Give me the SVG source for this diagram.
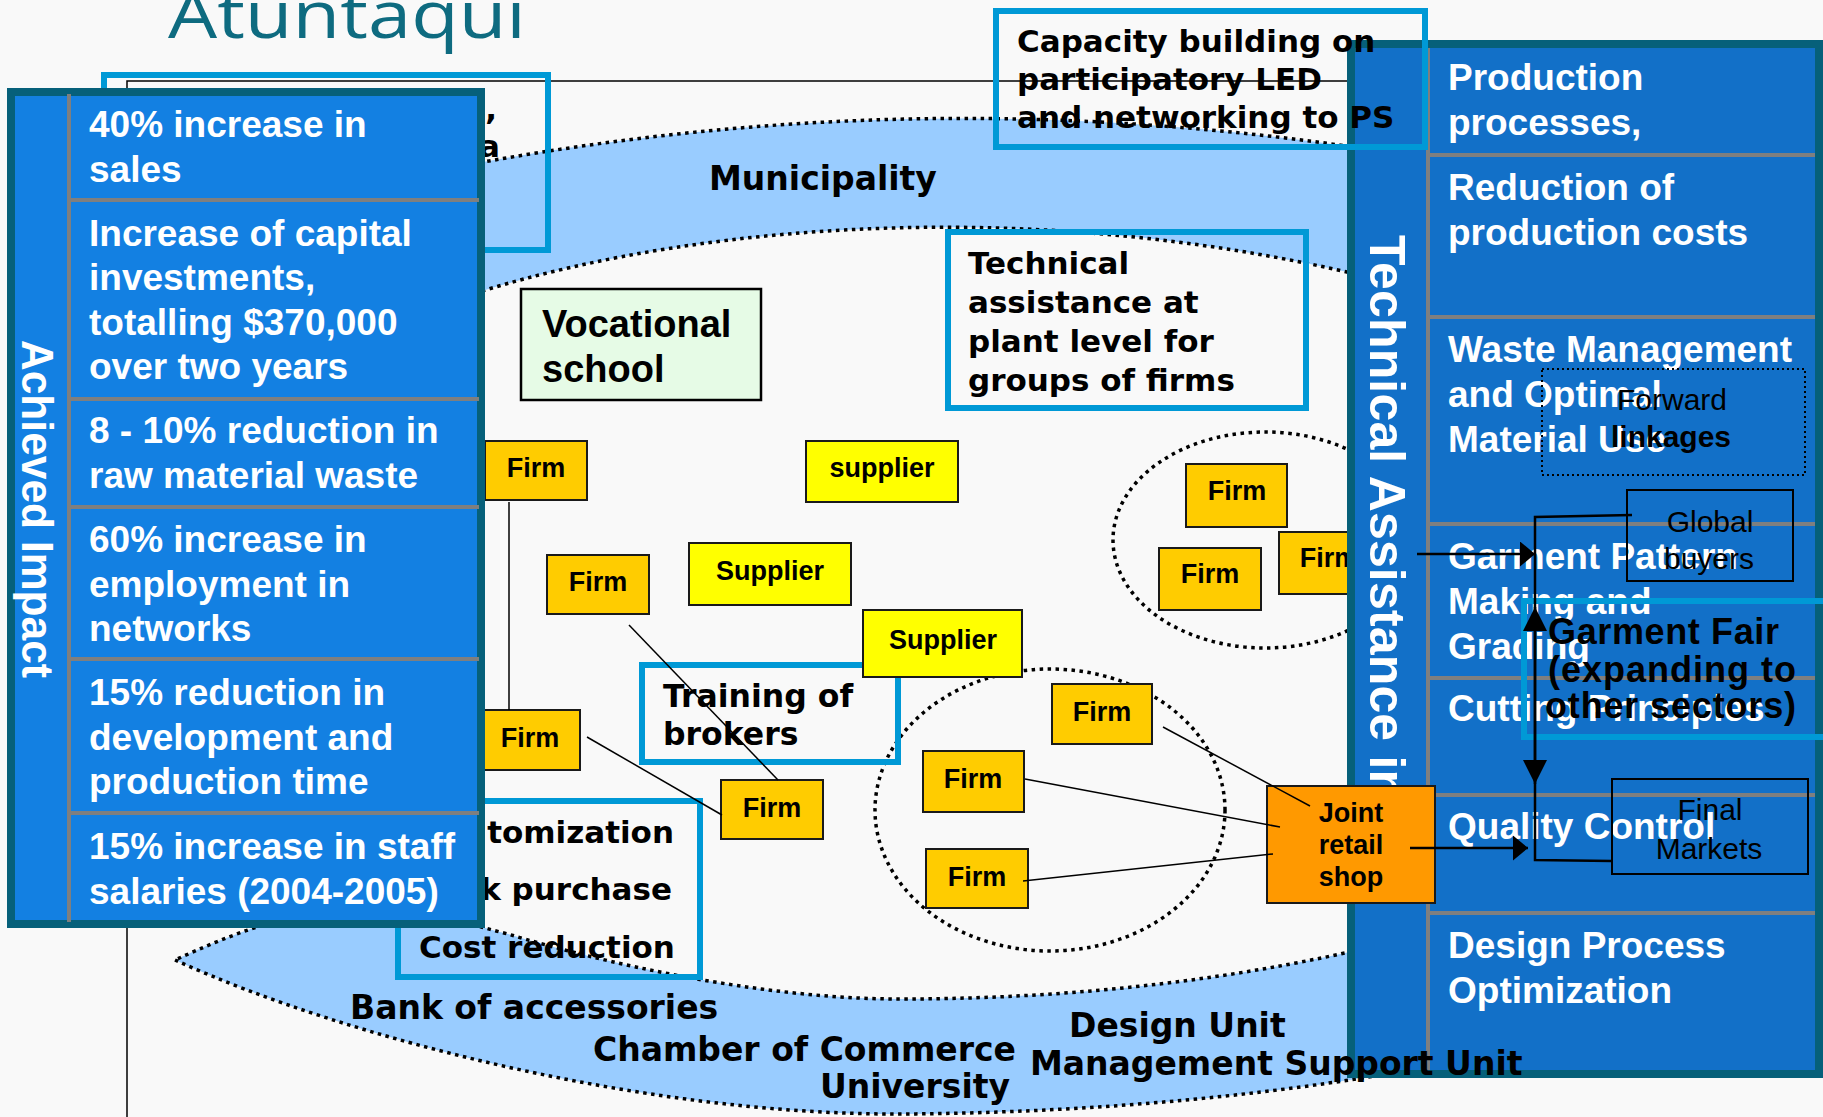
<svg xmlns="http://www.w3.org/2000/svg" width="1823" height="1117" viewBox="0 0 1823 1117">
<defs>
<style>
.bg{fill:#f9f9f9}
.title{font-family:"Open Sans","Liberation Sans",sans-serif;font-size:66px;fill:#0e6b80}
.pa{fill:#1380e2;stroke:#06607a;stroke-width:8}
.pt{fill:#1270c8;stroke:#06607a;stroke-width:8}
.dv{stroke:#7f7f7f;stroke-width:4}
.wt{font-family:"Liberation Sans",Arial,sans-serif;font-weight:bold;font-size:37px;fill:#fff}
.cy{fill:none;stroke:#0099d6;stroke-width:6}
.firm{fill:#ffcc00;stroke:#1a1a1a;stroke-width:2}
.sup{fill:#ffff00;stroke:#1a1a1a;stroke-width:2}
.lbl{font-family:"Liberation Sans",Arial,sans-serif;font-weight:bold;font-size:27px;fill:#000;text-anchor:middle}
.vb{font-family:"DejaVu Sans",Verdana,sans-serif;font-weight:bold;fill:#000}
.rg{font-family:"Liberation Sans",Arial,sans-serif;font-size:30px;fill:#000;text-anchor:middle}
.gf{font-family:"Liberation Sans",Arial,sans-serif;font-weight:bold;font-size:36px;fill:#000}
.band{fill:#99ccff;stroke:#000;stroke-width:3.5;stroke-dasharray:3.5 4.5}
.dot{fill:none;stroke:#000;stroke-width:3.5;stroke-dasharray:3.5 4.5}
.ln{stroke:#000;stroke-width:1.5;fill:none}
.ar{stroke:#000;stroke-width:2.5;fill:none}
.bx{fill:none;stroke:#000;stroke-width:2}
</style>
<marker id="ahR" markerUnits="userSpaceOnUse" markerWidth="16" markerHeight="26" refX="15" refY="12.5" orient="auto">
<path d="M0,0 L15,12.5 L0,25 Z" fill="#000"/>
</marker>
<marker id="ahV" markerUnits="userSpaceOnUse" markerWidth="26" markerHeight="26" refX="24" refY="12" orient="auto">
<path d="M0,0 L24,12 L0,24 Z" fill="#000"/>
</marker>
</defs>

<rect class="bg" x="0" y="0" width="1823" height="1117"/>

<text class="title" x="168" y="38" textLength="358" lengthAdjust="spacingAndGlyphs">Atuntaqui</text>

<!-- outer frame lines -->
<g id="frame">
<path class="ln" stroke-width="2" d="M127,1117 L127,81 L1350,81"/>
</g>

<!-- light blue bands with dotted edges -->
<g id="bands">
<path class="band" d="M440,170 C700,120 1000,95 1360,148 L1360,275 C1000,190 650,230 440,305 Z"/>
<path class="band" d="M175,960 C350,1040 650,1115 900,1114 C1100,1113 1300,1093 1450,1062 L1400,940 C1250,978 1080,999 900,999 C760,999 600,962 508,934 C470,925 440,912 380,908 C300,905 230,935 175,960 Z"/>
</g>

<!-- partly covered box, top left -->
<g id="box-topleft">
<rect class="cy" x="104" y="75" width="444" height="175"/>
<text class="vb" font-size="31" x="497" y="120" text-anchor="end">,</text>
<text class="vb" font-size="31" x="500" y="157" text-anchor="end">a</text>
</g>

<!-- cluster outlines -->
<g id="clusters">
<ellipse class="dot" cx="1265" cy="540" rx="152" ry="108"/>
<ellipse class="dot" cx="1050" cy="810" rx="175" ry="141"/>
</g>

<g id="municipality">
<text class="vb" font-size="33" x="709" y="190">Municipality</text>
</g>

<g id="vocational">
<rect x="521" y="289" width="240" height="111" fill="#e6fbe6" stroke="#000" stroke-width="2.5"/>
<text x="542" y="337" font-family="Liberation Sans, Arial, sans-serif" font-weight="bold" font-size="38">Vocational</text>
<text x="542" y="382" font-family="Liberation Sans, Arial, sans-serif" font-weight="bold" font-size="38">school</text>
</g>

<g id="tech-plant">
<rect class="cy" x="948" y="232" width="358" height="176"/>
<text class="vb" font-size="31" x="968" y="274">Technical</text>
<text class="vb" font-size="31" x="968" y="313">assistance at</text>
<text class="vb" font-size="31" x="968" y="352">plant level for</text>
<text class="vb" font-size="31" x="968" y="391">groups of firms</text>
</g>

<g id="training">
<rect class="cy" x="642" y="665" width="256" height="97"/>
<text class="vb" font-size="31.5" x="663" y="707">Training of</text>
<text class="vb" font-size="31.5" x="663" y="745">brokers</text>
</g>

<g id="cost-box">
<rect class="cy" x="398" y="801" width="302" height="176"/>
<text class="vb" font-size="31" x="674" y="843" text-anchor="end">tomization</text>
<text class="vb" font-size="31" x="672" y="900" text-anchor="end">k purchase</text>
<text class="vb" font-size="31" x="419" y="958">Cost reduction</text>
</g>

<g id="firm-1"><rect class="firm" x="485" y="441" width="102" height="59"/><text class="lbl" x="536" y="477">Firm</text></g>
<g id="firm-2"><rect class="firm" x="547" y="555" width="102" height="59"/><text class="lbl" x="598" y="591">Firm</text></g>
<g id="firm-3"><rect class="firm" x="482" y="710" width="98" height="60"/><text class="lbl" x="530" y="747">Firm</text></g>
<g id="firm-4"><rect class="firm" x="721" y="780" width="102" height="59"/><text class="lbl" x="772" y="817">Firm</text></g>
<g id="firm-5"><rect class="firm" x="1186" y="464" width="101" height="63"/><text class="lbl" x="1237" y="500">Firm</text></g>
<g id="firm-6"><rect class="firm" x="1159" y="548" width="102" height="62"/><text class="lbl" x="1210" y="583">Firm</text></g>
<g id="firm-7"><rect class="firm" x="1279" y="532" width="102" height="62"/><text class="lbl" x="1329" y="567">Firm</text></g>
<g id="firm-8"><rect class="firm" x="1052" y="684" width="100" height="60"/><text class="lbl" x="1102" y="721">Firm</text></g>
<g id="firm-9"><rect class="firm" x="923" y="751" width="101" height="61"/><text class="lbl" x="973" y="788">Firm</text></g>
<g id="firm-10"><rect class="firm" x="926" y="849" width="102" height="59"/><text class="lbl" x="977" y="886">Firm</text></g>

<g id="supplier-1"><rect class="sup" x="806" y="441" width="152" height="61"/><text class="lbl" x="882" y="477">supplier</text></g>
<g id="supplier-2"><rect class="sup" x="689" y="543" width="162" height="62"/><text class="lbl" x="770" y="580">Supplier</text></g>
<g id="supplier-3"><rect class="sup" x="863" y="610" width="159" height="67"/><text class="lbl" x="943" y="649">Supplier</text></g>

<!-- achieved impact panel -->
<g id="achieved-impact">
<rect class="pa" x="11" y="92" width="470" height="832"/>
<line class="dv" x1="69" y1="94" x2="69" y2="922"/>
<line class="dv" x1="71" y1="200" x2="479" y2="200"/>
<line class="dv" x1="71" y1="399" x2="479" y2="399"/>
<line class="dv" x1="71" y1="507" x2="479" y2="507"/>
<line class="dv" x1="71" y1="659" x2="479" y2="659"/>
<line class="dv" x1="71" y1="813" x2="479" y2="813"/>
<text transform="translate(22,340) rotate(90)" font-family="Liberation Sans, Arial, sans-serif" font-weight="bold" font-size="45" fill="#fff" textLength="338" lengthAdjust="spacingAndGlyphs">Achieved Impact</text>
<text class="wt" x="89" y="137">40% increase in</text>
<text class="wt" x="89" y="182">sales</text>
<text class="wt" x="89" y="246">Increase of capital</text>
<text class="wt" x="89" y="290">investments,</text>
<text class="wt" x="89" y="335">totalling $370,000</text>
<text class="wt" x="89" y="379">over two years</text>
<text class="wt" x="89" y="443">8 - 10% reduction in</text>
<text class="wt" x="89" y="488">raw material waste</text>
<text class="wt" x="89" y="552">60% increase in</text>
<text class="wt" x="89" y="597">employment in</text>
<text class="wt" x="89" y="641">networks</text>
<text class="wt" x="89" y="705">15% reduction in</text>
<text class="wt" x="89" y="750">development and</text>
<text class="wt" x="89" y="794">production time</text>
<text class="wt" x="89" y="859">15% increase in staff</text>
<text class="wt" x="89" y="904">salaries (2004-2005)</text>
</g>

<!-- technical assistance panel -->
<g id="technical-assistance">
<rect class="pt" x="1351" y="44" width="468" height="1030"/>
<line class="dv" x1="1428" y1="48" x2="1428" y2="1070"/>
<line class="dv" x1="1430" y1="155" x2="1815" y2="155"/>
<line class="dv" x1="1430" y1="317" x2="1815" y2="317"/>
<line class="dv" x1="1430" y1="524" x2="1815" y2="524"/>
<line class="dv" x1="1430" y1="678" x2="1815" y2="678"/>
<line class="dv" x1="1430" y1="795" x2="1815" y2="795"/>
<line class="dv" x1="1430" y1="913" x2="1815" y2="913"/>
<text transform="translate(1370,235) rotate(90)" font-family="Liberation Sans, Arial, sans-serif" font-weight="bold" font-size="50" fill="#fff" textLength="565">Technical Assistance in</text>
<text class="wt" x="1448" y="90">Production</text>
<text class="wt" x="1448" y="135">processes,</text>
<text class="wt" x="1448" y="200">Reduction of</text>
<text class="wt" x="1448" y="245">production costs</text>
<text class="wt" x="1448" y="362">Waste Management</text>
<text class="wt" x="1448" y="407">and Optimal</text>
<text class="wt" x="1448" y="452">Material Use</text>
<text class="wt" x="1448" y="569">Garment Pattern</text>
<text class="wt" x="1448" y="614">Making and</text>
<text class="wt" x="1448" y="659">Grading</text>
<text class="wt" x="1448" y="721">Cutting Principles</text>
<text class="wt" x="1448" y="839">Quality Control</text>
<text class="wt" x="1448" y="958">Design Process</text>
<text class="wt" x="1448" y="1003">Optimization</text>
</g>

<g id="capacity">
<rect class="cy" x="996" y="11" width="429" height="136"/>
<text class="vb" font-size="31" x="1017" y="52">Capacity building on</text>
<text class="vb" font-size="31" x="1017" y="90">participatory LED</text>
<text class="vb" font-size="31" x="1017" y="128">and networking to PS</text>
</g>

<g id="joint-shop">
<rect x="1267" y="786" width="168" height="117" fill="#ff9900" stroke="#1a1a1a" stroke-width="2"/>
<text class="lbl" x="1351" y="822">Joint</text>
<text class="lbl" x="1351" y="854">retail</text>
<text class="lbl" x="1351" y="886">shop</text>
</g>

<g id="forward-linkages">
<rect x="1542" y="369" width="263" height="106" fill="none" stroke="#000" stroke-width="2" stroke-dasharray="2 3"/>
<text class="rg" font-size="31" x="1672" y="410">Forward</text>
<text class="rg" font-size="32" font-weight="bold" x="1671" y="447">linkages</text>
</g>

<g id="global-buyers">
<rect class="bx" x="1627" y="490" width="166" height="91"/>
<text class="rg" x="1710" y="532">Global</text>
<text class="rg" x="1709" y="569">buyers</text>
</g>

<g id="garment-fair">
<rect class="cy" x="1524" y="601" width="320" height="136"/>
<text class="gf" x="1548" y="644" textLength="231">Garment Fair</text>
<text class="gf" x="1548" y="682" textLength="248">(expanding to</text>
<text class="gf" x="1545" y="718" textLength="251">other sectors)</text>
</g>

<g id="final-markets">
<rect class="bx" x="1612" y="779" width="196" height="95"/>
<text class="rg" x="1710" y="820">Final</text>
<text class="rg" x="1709" y="859">Markets</text>
</g>

<!-- institution labels on the bands -->
<g id="band-labels">
<text class="vb" font-size="33" x="350" y="1019">Bank of accessories</text>
<text class="vb" font-size="33" x="593" y="1061">Chamber of Commerce</text>
<text class="vb" font-size="33" x="820" y="1098">University</text>
<text class="vb" font-size="33" x="1069" y="1037">Design Unit</text>
<text class="vb" font-size="33" x="1030" y="1075">Management Support Unit</text>
</g>

<g id="connectors">
<path class="ln" d="M509,502 L509,710"/>
<path class="ln" d="M629,625 L778,780"/>
<path class="ln" d="M587,737 L722,815"/>
<path class="ln" d="M1163,727 L1310,806"/>
<path class="ln" d="M1025,779 L1280,827"/>
<path class="ln" d="M1023,881 L1273,854"/>
<path class="ar" d="M1417,554 L1535,554" marker-end="url(#ahR)"/>
<path class="ar" d="M1410,848 L1528,848" marker-end="url(#ahR)"/>
<path class="ar" d="M1632,515 L1535,517 L1535,784" marker-end="url(#ahV)"/>
<path class="ar" d="M1612,861 L1535,860 L1535,607" marker-end="url(#ahV)"/>
</g>
</svg>
